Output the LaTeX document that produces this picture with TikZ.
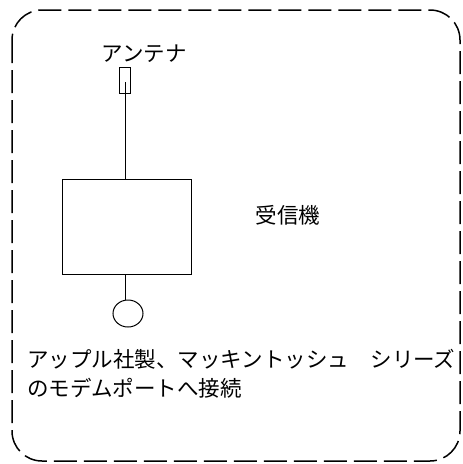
\documentclass[tikz,border=0pt]{standalone}
\usepackage{fontspec}
\usetikzlibrary{shapes.geometric}
\newfontfamily\cjk{Noto Sans CJK JP}
\begin{document}
\begin{tikzpicture}[x=1pt,y=-1pt,
  frame/.style={line width=1.5pt,dash pattern=on 23pt off 7pt,rounded corners=30pt},
  wire/.style={line width=1pt},
  lbl/.style={font=\cjk\fontsize{21.5}{24}\selectfont,inner sep=0pt},
  part/.style={draw,line width=1pt,inner sep=0pt}]
\useasboundingbox (0,0) rectangle (463,464);
\draw[frame] (12,10) rectangle (460,461);
\node[lbl] (antlabel) at (144,54) {アンテナ};
\node[part,minimum width=11pt,minimum height=26pt] (ant) at (124.5,80) {};
\coordinate (feed) at (125,82);
\node[part,minimum width=129pt,minimum height=95pt] (rx) at (126.5,226.5) {};
\node[part,ellipse,minimum width=30pt,minimum height=27pt] (port) at (128,313.5) {};
\node[lbl] (rxlabel) at (288,215) {受信機};
\draw[wire] (feed) -- (feed |- rx.north);
\draw[wire] (rx.south -| feed) -- (feed |- port.north);
\node[lbl,anchor=west] (l1) at (27,359) {アップル社製、マッキントッシュ　シリーズ};
\node[lbl,anchor=west] (l2) at (27,388) {のモデムポートへ接続};
\end{tikzpicture}
\end{document}
